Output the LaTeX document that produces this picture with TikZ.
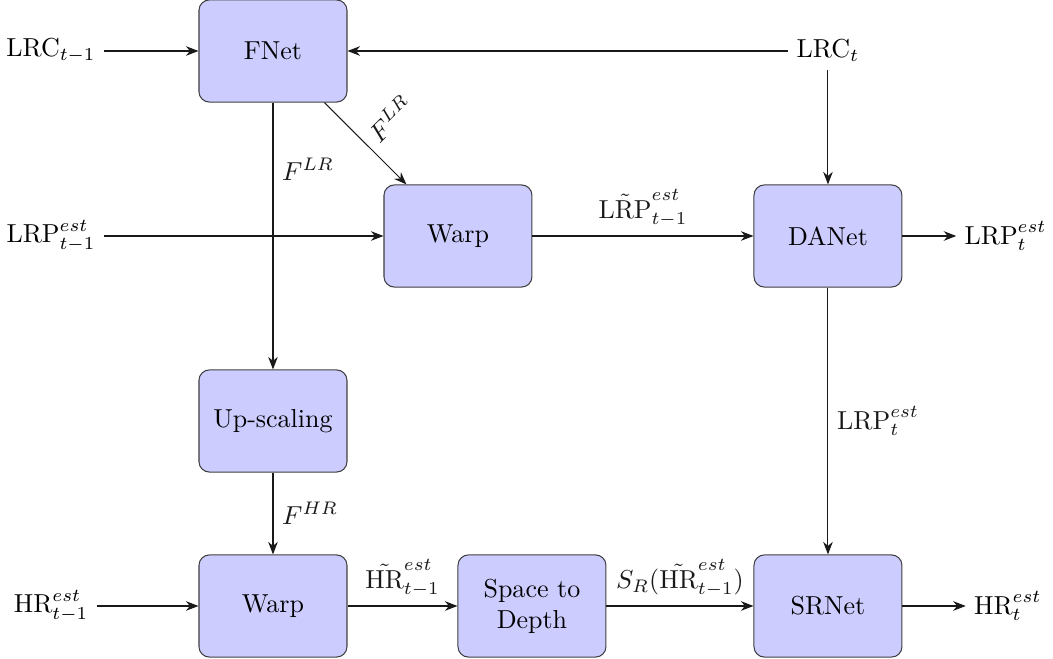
\documentclass[tikz,border=0pt]{standalone}
\usetikzlibrary{arrows.meta}
\begin{document}
\begin{tikzpicture}[
  block/.style={draw=black!75, fill=blue!20, rounded corners=4pt,
    minimum width=2cm, minimum height=1.38cm, align=center},
  io/.style={inner sep=3pt},
  flow/.style={-{Stealth[length=1.7mm,width=1.3mm]}, thin, black!90},
]
\useasboundingbox (-3.689,0.689) rectangle (10.541,-8.216);

% processing blocks
\node[block] (fnet)  at (0,0)      {FNet};
\node[block] (warpa) at (2.5,-2.5) {Warp};
\node[block] (danet) at (7.5,-2.5) {DANet};
\node[block] (up)    at (0,-5)     {Up-scaling};
\node[block] (warpb) at (0,-7.5)   {Warp};
\node[block] (s2d)   at (3.5,-7.5) {Space to\\Depth};
\node[block] (srnet) at (7.5,-7.5) {SRNet};

% inputs and outputs
\node[io] (lrcprev) at (-3,0)     {$\mathrm{LRC}_{t-1}$};
\node[io] (lrc)     at (7.5,0)    {$\mathrm{LRC}_{t}$};
\node[io] (lrpprev) at (-3,-2.5)  {$\mathrm{LRP}^{est}_{t-1}$};
\node[io] (hrprev)  at (-3,-7.5)  {$\mathrm{HR}^{est}_{t-1}$};
\node[io] (lrpout)  at (9.9,-2.5) {$\mathrm{LRP}^{est}_{t}$};
\node[io] (hrout)   at (9.93,-7.5){$\mathrm{HR}^{est}_{t}$};

% connections
\draw[flow] (lrcprev) -- (fnet);
\draw[flow] (lrc) -- (fnet);
\draw[flow] (lrc) -- (danet);
\draw[flow] (lrpprev) -- (warpa);
\draw[flow] (fnet) -- node[right, near start] {$F^{LR}$} (up);
\draw[flow] (fnet) -- node[pos=0.5, rotate=45, anchor=west] {$F^{LR}$} (warpa);
\draw[flow] (warpa) -- node[above] {$\tilde{\mathrm{LRP}}^{est}_{t-1}$} (danet);
\draw[flow] (danet) -- (lrpout);
\draw[flow] (danet) -- node[right] {$\mathrm{LRP}^{est}_{t}$} (srnet);
\draw[flow] (up) -- node[right] {$F^{HR}$} (warpb);
\draw[flow] (hrprev) -- (warpb);
\draw[flow] (warpb) -- node[above] {$\tilde{\mathrm{HR}}^{est}_{t-1}$} (s2d);
\draw[flow] (s2d) -- node[above] {$S_R(\tilde{\mathrm{HR}}^{est}_{t-1})$} (srnet);
\draw[flow] (srnet) -- (hrout);
\end{tikzpicture}
\end{document}
